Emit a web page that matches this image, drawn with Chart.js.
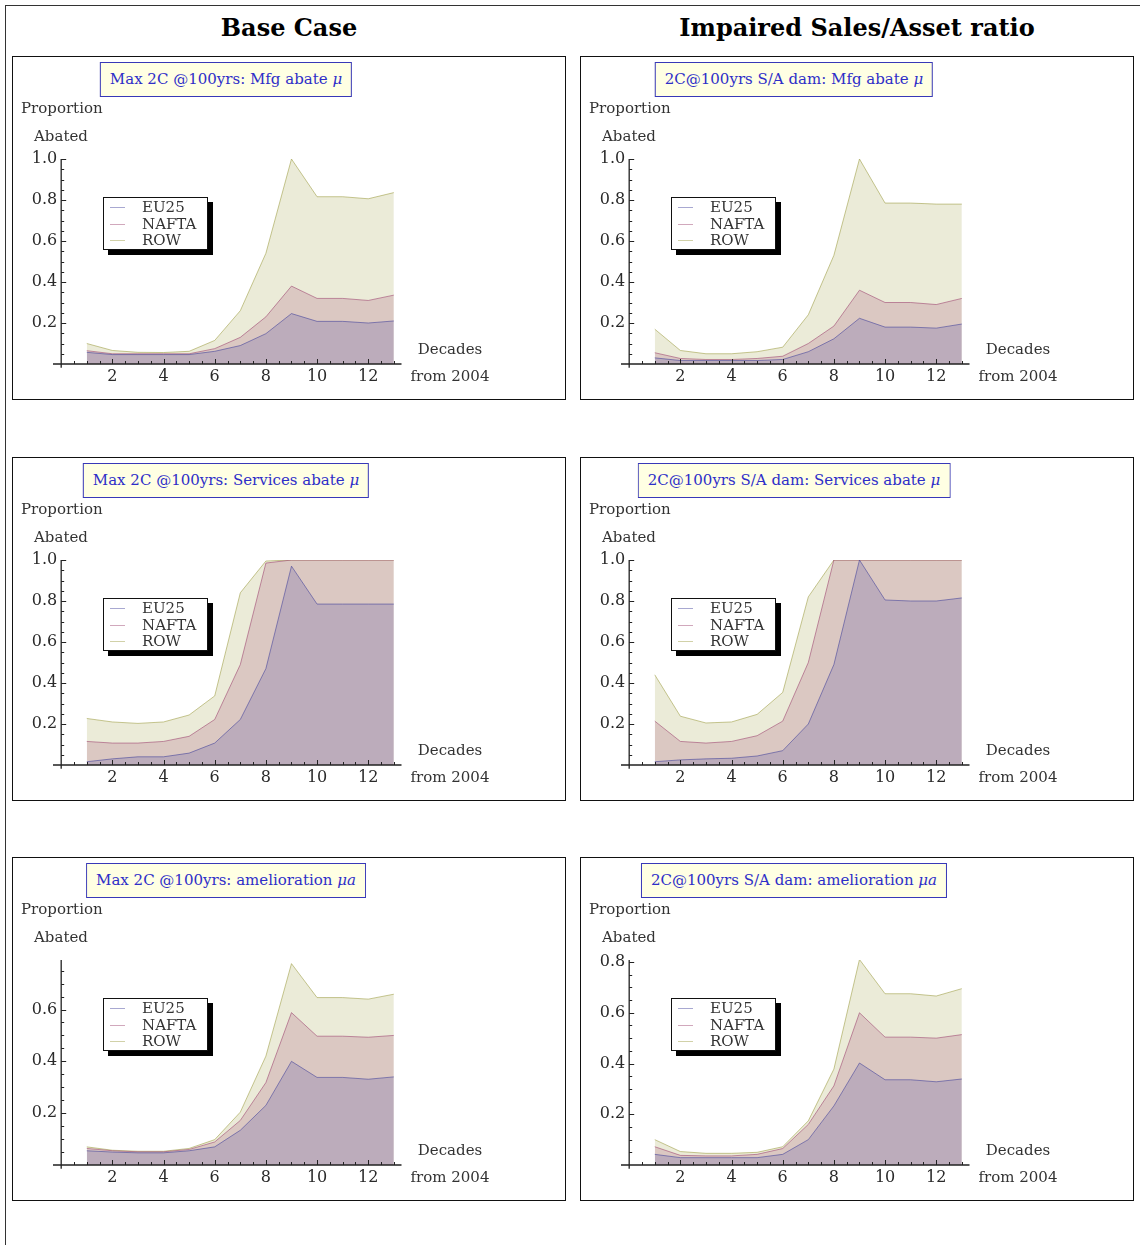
<!DOCTYPE html>
<html>
<head>
<meta charset="utf-8">
<title>Proportion abated by region</title>
<script src="https://cdn.jsdelivr.net/npm/chart.js@4.4.1/dist/chart.umd.min.js"></script>
<style>
  body { margin: 0; background: #fff; width: 1140px; height: 1245px; position: relative; overflow: hidden; font-family: "DejaVu Serif", serif; }
  .frame-top { position: absolute; left: 5px; top: 5px; width: 1135px; border-top: 1px solid #333; }
  .frame-left { position: absolute; left: 5px; top: 5px; height: 1240px; border-left: 1px solid #333; }
  .head { position: absolute; top: 13px; width: 554px; text-align: center; font: bold 24px "DejaVu Serif", serif; color: #000; }
  .panel { position: absolute; width: 552px; height: 342px; border: 1px solid #111; }
  .panel canvas { position: absolute; left: 0; top: 0; }
  .ttl { position: absolute; top: 5px; left: 213px; transform: translateX(-50%); height: 33px; line-height: 33px; padding: 0 9px;
         background: #ffffe3; border: 1px solid #3838b8; color: #2e2ec8; font-size: 15px; white-space: nowrap; }
  .lbl { position: absolute; font-size: 15px; line-height: 18px; color: #333; white-space: nowrap; }
  .ctr { transform: translateX(-50%); }
  .legend { position: absolute; left: 90px; top: 140px; width: 103px; height: 51px; background: #fff; border: 1px solid #111;
            box-shadow: 5px 5px 0 #000; font-size: 15px; color: #333; }
  .legend div { position: absolute; left: 38px; height: 17px; line-height: 17px; }
  .legend span { position: absolute; left: -32px; top: 8px; width: 15px; height: 0; border-top: 1px solid; }
</style>
</head>
<body>
<div class="frame-top"></div>
<div class="frame-left"></div>
<div class="head" style="left:12px">Base Case</div>
<div class="head" style="left:580px">Impaired Sales/Asset ratio</div>

<script>
// decades from 2004, and the three regions
const decades = [1, 2, 3, 4, 5, 6, 7, 8, 9, 10, 11, 12, 13];
const regions = ["EU25", "NAFTA", "ROW"];

// Base case: manufacturing abatement
const baseMfgEU25  = [0.057, 0.046, 0.046, 0.046, 0.046, 0.062, 0.09, 0.148, 0.246, 0.208, 0.208, 0.200, 0.210];
const baseMfgNAFTA = [0.065, 0.050, 0.050, 0.050, 0.050, 0.075, 0.13, 0.230, 0.380, 0.320, 0.320, 0.310, 0.336];
const baseMfgROW   = [0.100, 0.066, 0.057, 0.056, 0.062, 0.115, 0.26, 0.540, 1.000, 0.816, 0.816, 0.806, 0.836];

// Impaired S/A: manufacturing abatement
const saMfgEU25  = [0.030, 0.017, 0.017, 0.017, 0.017, 0.022, 0.06, 0.123, 0.223, 0.180, 0.180, 0.175, 0.195];
const saMfgNAFTA = [0.055, 0.027, 0.022, 0.022, 0.027, 0.038, 0.10, 0.185, 0.360, 0.300, 0.300, 0.290, 0.320];
const saMfgROW   = [0.170, 0.066, 0.050, 0.050, 0.060, 0.082, 0.24, 0.530, 1.000, 0.785, 0.785, 0.780, 0.780];

// Base case: services abatement
const baseSvcEU25  = [0.016, 0.030, 0.040, 0.040, 0.058, 0.107, 0.222, 0.470, 0.970, 0.785, 0.785, 0.785, 0.785];
const baseSvcNAFTA = [0.115, 0.107, 0.107, 0.115, 0.140, 0.222, 0.490, 0.985, 1.000, 1.000, 1.000, 1.000, 1.000];
const baseSvcROW   = [0.227, 0.210, 0.203, 0.210, 0.244, 0.337, 0.840, 0.995, 1.000, 1.000, 1.000, 1.000, 1.000];

// Impaired S/A: services abatement
const saSvcEU25  = [0.016, 0.025, 0.030, 0.033, 0.044, 0.070, 0.200, 0.490, 1.000, 0.805, 0.800, 0.800, 0.815];
const saSvcNAFTA = [0.214, 0.115, 0.107, 0.115, 0.143, 0.214, 0.500, 1.000, 1.000, 1.000, 1.000, 1.000, 1.000];
const saSvcROW   = [0.440, 0.238, 0.205, 0.210, 0.247, 0.354, 0.820, 1.000, 1.000, 1.000, 1.000, 1.000, 1.000];

// Base case: amelioration
const baseAmelEU25  = [0.055, 0.050, 0.047, 0.047, 0.055, 0.070, 0.134, 0.230, 0.400, 0.338, 0.338, 0.331, 0.340];
const baseAmelNAFTA = [0.064, 0.055, 0.051, 0.051, 0.060, 0.089, 0.172, 0.318, 0.588, 0.497, 0.497, 0.493, 0.500];
const baseAmelROW   = [0.070, 0.057, 0.053, 0.053, 0.064, 0.098, 0.204, 0.420, 0.777, 0.646, 0.646, 0.640, 0.659];

// Impaired S/A: amelioration
const saAmelEU25  = [0.042, 0.029, 0.029, 0.029, 0.029, 0.042, 0.100, 0.233, 0.402, 0.336, 0.336, 0.328, 0.339];
const saAmelNAFTA = [0.072, 0.038, 0.036, 0.036, 0.042, 0.065, 0.160, 0.312, 0.600, 0.504, 0.504, 0.500, 0.514];
const saAmelROW   = [0.100, 0.053, 0.046, 0.046, 0.050, 0.072, 0.174, 0.378, 0.810, 0.675, 0.675, 0.666, 0.695];

// tick labels
const xMajorTicks = [2, 4, 6, 8, 10, 12];
const yTicksFull = [0.2, 0.4, 0.6, 0.8, 1.0];
const yTicksAmel = [0.2, 0.4, 0.6];
const yTicksAmelSA = [0.2, 0.4, 0.6, 0.8];
const xMinorStep = 0.5;
const yMinorStep = 0.05;

// Mathematica-ish default series colours
const seriesRGB = ["61,61,153", "153,61,107", "153,153,61"];

const panels = [
  { title: "Max 2C @100yrs: Mfg abate <i>μ</i>",       col: 0, row: 0, data: [baseMfgEU25, baseMfgNAFTA, baseMfgROW],    yMax: 1.0,   yTicks: yTicksFull },
  { title: "2C@100yrs S/A dam: Mfg abate <i>μ</i>",     col: 1, row: 0, data: [saMfgEU25, saMfgNAFTA, saMfgROW],          yMax: 1.0,   yTicks: yTicksFull },
  { title: "Max 2C @100yrs: Services abate <i>μ</i>",   col: 0, row: 1, data: [baseSvcEU25, baseSvcNAFTA, baseSvcROW],    yMax: 1.0,   yTicks: yTicksFull },
  { title: "2C@100yrs S/A dam: Services abate <i>μ</i>", col: 1, row: 1, data: [saSvcEU25, saSvcNAFTA, saSvcROW],         yMax: 1.0,   yTicks: yTicksFull },
  { title: "Max 2C @100yrs: amelioration <i>μa</i>",    col: 0, row: 2, data: [baseAmelEU25, baseAmelNAFTA, baseAmelROW], yMax: 0.791, yTicks: yTicksAmel },
  { title: "2C@100yrs S/A dam: amelioration <i>μa</i>",  col: 1, row: 2, data: [saAmelEU25, saAmelNAFTA, saAmelROW],       yMax: 0.808, yTicks: yTicksAmelSA }
];

const panelLeft = [12, 580];
const panelTop = [56, 457, 857];

// axes drawn through the origin, ticks pointing inward
const originAxes = {
  id: "originAxes",
  afterDatasetsDraw(chart, args, opts) {
    const ctx = chart.ctx, xs = chart.scales.x, ys = chart.scales.y;
    const x0 = xs.getPixelForValue(0), y0 = ys.getPixelForValue(0);
    ctx.save();
    ctx.strokeStyle = "#222";
    ctx.lineWidth = 1.3;
    ctx.beginPath();
    ctx.moveTo(xs.left, y0); ctx.lineTo(xs.right, y0);
    ctx.moveTo(x0, ys.bottom); ctx.lineTo(x0, ys.getPixelForValue(opts.yMax));
    ctx.stroke();

    ctx.lineWidth = 1;
    ctx.beginPath();
    for (let v = xMinorStep; v <= 13 + 1e-9; v += xMinorStep) {
      const px = Math.round(xs.getPixelForValue(v)) + 0.5;
      const len = xMajorTicks.includes(v) ? 5 : 3;
      ctx.moveTo(px, y0); ctx.lineTo(px, y0 - len);
    }
    for (let v = yMinorStep; v <= opts.yMax + 1e-9; v += yMinorStep) {
      const py = Math.round(ys.getPixelForValue(v)) + 0.5;
      const major = opts.yTicks.some(t => Math.abs(t - v) < 1e-6);
      ctx.moveTo(x0, py); ctx.lineTo(x0 + (major ? 5 : 3), py);
    }
    ctx.stroke();

    ctx.fillStyle = "#2a2a2a";
    ctx.font = '16px "DejaVu Serif"';
    ctx.textAlign = "right";
    ctx.textBaseline = "middle";
    opts.yTicks.forEach(t => ctx.fillText(t.toFixed(1), x0 - 4, ys.getPixelForValue(t)));
    ctx.textAlign = "center";
    xMajorTicks.forEach(t => ctx.fillText(String(t), xs.getPixelForValue(t), y0 + 13));
    ctx.restore();
  }
};

panels.forEach((p, i) => {
  const box = document.createElement("div");
  box.className = "panel";
  box.style.left = panelLeft[p.col] + "px";
  box.style.top = panelTop[p.row] + "px";
  box.innerHTML =
    '<canvas width="552" height="342"></canvas>' +
    '<div class="ttl">' + p.title + '</div>' +
    '<div class="lbl" style="left:8px;top:42px">Proportion</div>' +
    '<div class="lbl" style="left:21px;top:70px">Abated</div>' +
    '<div class="lbl ctr" style="left:437px;top:283px">Decades</div>' +
    '<div class="lbl ctr" style="left:437px;top:310px">from 2004</div>' +
    '<div class="legend">' + regions.map((r, k) =>
      '<div style="top:' + (1 + k * 16.5) + 'px"><span style="border-color:rgba(' + seriesRGB[k] + ',0.45)"></span>' + r + '</div>').join("") +
    '</div>';
  document.body.appendChild(box);

  const datasets = p.data.map((vals, k) => ({
    label: regions[k],
    data: decades.map((d, j) => ({ x: d, y: vals[j] })),
    borderColor: "rgba(" + seriesRGB[k] + ",0.55)",
    backgroundColor: "rgba(" + seriesRGB[k] + ",0.2)",
    borderWidth: 1,
    fill: "origin",
    pointRadius: 0,
    tension: 0
  }));

  new Chart(box.querySelector("canvas"), {
    type: "line",
    data: { datasets },
    plugins: [originAxes],
    options: {
      responsive: false,
      animation: false,
      layout: { padding: { left: 40, right: 163.5, top: 102, bottom: 31.3 } },
      plugins: { legend: { display: false }, tooltip: { enabled: false }, originAxes: { yMax: p.yMax, yTicks: p.yTicks } },
      scales: {
        x: { type: "linear", display: false, min: -0.32, max: 13.3 },
        y: { type: "linear", display: false, min: -0.018 * p.yMax, max: p.yMax }
      }
    }
  });
});
</script>
</body>
</html>
